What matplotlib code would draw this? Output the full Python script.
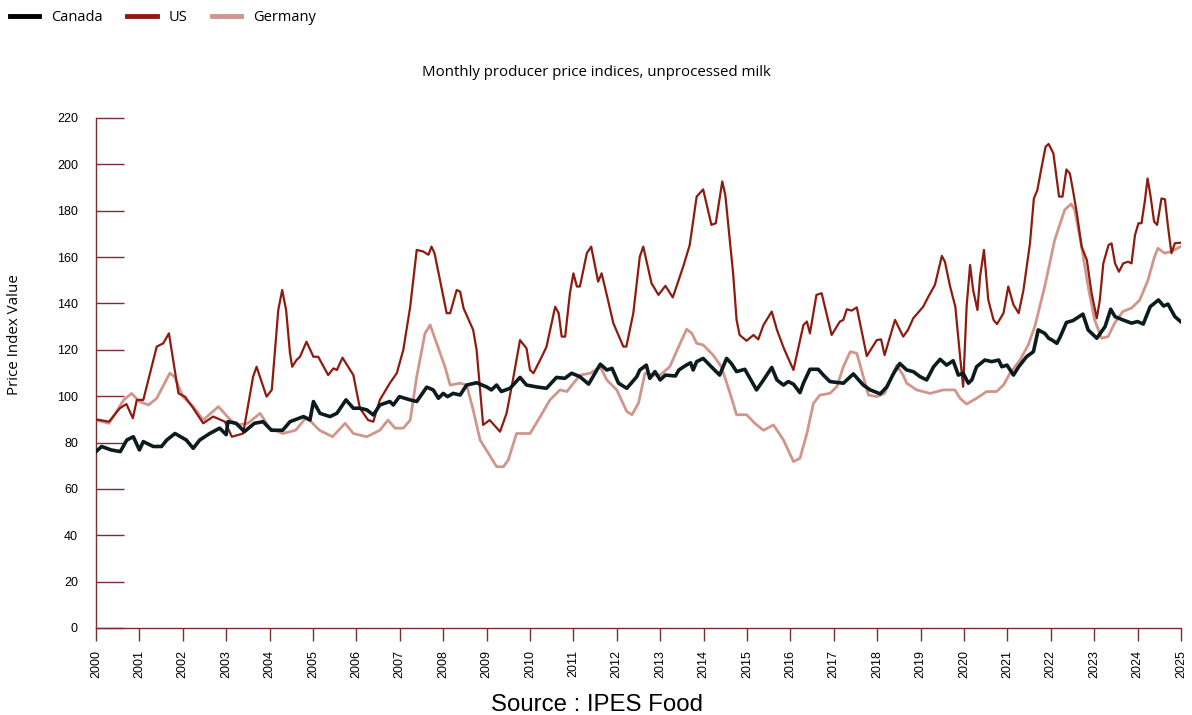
import matplotlib
matplotlib.use("Agg")
import matplotlib.pyplot as plt

# series (decimal year, index value)
canada_t = [2000.0, 2000.13, 2000.35, 2000.56, 2000.71, 2000.86, 2001.0, 2001.09, 2001.32, 2001.51,
            2001.63, 2001.82, 2002.08, 2002.24, 2002.39, 2002.62, 2002.85, 2003.0, 2003.04, 2003.23,
            2003.42, 2003.65, 2003.85, 2004.04, 2004.3, 2004.47, 2004.78, 2004.93, 2005.01, 2005.16,
            2005.39, 2005.55, 2005.76, 2005.93, 2006.08, 2006.24, 2006.39, 2006.54, 2006.77, 2006.85,
            2006.99, 2007.24, 2007.39, 2007.62, 2007.77, 2007.89, 2008.0, 2008.1, 2008.23, 2008.39,
            2008.54, 2008.77, 2009.0, 2009.11, 2009.23, 2009.34, 2009.54, 2009.77, 2009.92, 2010.15,
            2010.38, 2010.61, 2010.8, 2010.96, 2011.15, 2011.35, 2011.62, 2011.77, 2011.89, 2012.04,
            2012.23, 2012.46, 2012.53, 2012.68, 2012.76, 2012.88, 2013.0, 2013.12, 2013.35, 2013.43,
            2013.6, 2013.7, 2013.76, 2013.84, 2013.99, 2014.14, 2014.37, 2014.53, 2014.64, 2014.76,
            2014.95, 2015.22, 2015.38, 2015.57, 2015.69, 2015.84, 2015.95, 2016.07, 2016.22, 2016.3,
            2016.45, 2016.64, 2016.76, 2016.91, 2017.22, 2017.45, 2017.68, 2017.84, 2018.07, 2018.22,
            2018.38, 2018.52, 2018.68, 2018.83, 2018.99, 2019.14, 2019.3, 2019.45, 2019.6, 2019.75,
            2019.87, 2019.98, 2020.1, 2020.18, 2020.29, 2020.48, 2020.64, 2020.8, 2020.87, 2020.99,
            2021.14, 2021.26, 2021.44, 2021.6, 2021.71, 2021.86, 2021.95, 2022.03, 2022.14, 2022.22,
            2022.36, 2022.51, 2022.74, 2022.86, 2023.06, 2023.25, 2023.38, 2023.48, 2023.66, 2023.86,
            2024.0, 2024.13, 2024.29, 2024.48, 2024.6, 2024.7, 2024.86, 2024.99]
canada_v = [76.1, 78.3, 76.8, 76.1, 81.1, 82.5, 76.8, 80.4, 78.3, 78.3,
            81.1, 83.9, 81.1, 77.5, 81.1, 83.9, 86.2, 83.4, 89.0, 88.3,
            84.7, 88.3, 89.0, 85.3, 85.3, 89.0, 91.2, 89.7, 97.7, 92.6,
            91.2, 92.6, 98.4, 94.8, 94.8, 94.1, 91.9, 96.2, 97.7, 96.2,
            99.8, 98.4, 97.7, 103.9, 102.7, 99.1, 101.2, 99.8, 101.2, 100.5,
            104.8, 105.8, 104.0, 102.7, 104.8, 102.0, 103.4, 108.1, 104.8, 104.0,
            103.4, 108.1, 107.7, 109.9, 108.4, 105.2, 113.8, 111.3, 112.0, 105.6,
            103.4, 108.4, 111.3, 113.4, 107.7, 110.6, 107.0, 109.1, 108.7, 111.3,
            113.4, 114.4, 111.3, 114.9, 116.3, 113.4, 109.1, 116.3, 114.1, 110.6,
            111.6, 102.7, 107.0, 112.4, 107.0, 104.8, 106.3, 105.2, 101.5, 105.6,
            111.6, 111.6, 109.1, 106.3, 105.6, 109.6, 104.8, 102.7, 101.0, 104.0,
            109.9, 114.1, 111.3, 110.6, 108.4, 107.0, 112.7, 115.9, 113.4, 115.3,
            109.1, 109.9, 105.6, 107.0, 112.7, 115.6, 114.9, 115.6, 112.7, 113.4,
            109.1, 112.7, 117.0, 119.2, 128.6, 127.1, 125.0, 124.2, 122.8, 125.7,
            131.8, 132.6, 135.4, 128.6, 125.0, 130.0, 137.5, 134.3, 132.9, 131.5,
            132.2, 131.1, 138.6, 141.5, 138.9, 139.7, 134.3, 132.2]

us_t = [2000.0, 2000.3, 2000.55, 2000.7, 2000.85, 2000.94, 2001.09, 2001.4, 2001.55, 2001.68,
        2001.9, 2002.05, 2002.24, 2002.47, 2002.7, 2002.97, 2003.13, 2003.39, 2003.62, 2003.7,
        2003.93, 2004.05, 2004.2, 2004.29, 2004.38, 2004.47, 2004.52, 2004.62, 2004.7, 2004.85,
        2005.01, 2005.12, 2005.35, 2005.47, 2005.55, 2005.68, 2005.93, 2006.08, 2006.27, 2006.39,
        2006.54, 2006.77, 2006.93, 2007.08, 2007.24, 2007.39, 2007.54, 2007.66, 2007.73, 2007.8,
        2008.08, 2008.16, 2008.31, 2008.39, 2008.47, 2008.69, 2008.77, 2008.92, 2009.07, 2009.31,
        2009.46, 2009.62, 2009.77, 2009.92, 2010.0, 2010.08, 2010.27, 2010.38, 2010.58, 2010.66,
        2010.73, 2010.81, 2010.92, 2011.0, 2011.08, 2011.15, 2011.31, 2011.41, 2011.57, 2011.65,
        2011.76, 2011.92, 2012.15, 2012.22, 2012.38, 2012.53, 2012.61, 2012.8, 2012.96, 2013.12,
        2013.29, 2013.53, 2013.68, 2013.84, 2013.99, 2014.18, 2014.28, 2014.43, 2014.5, 2014.68,
        2014.76, 2014.83, 2014.99, 2015.15, 2015.26, 2015.38, 2015.57, 2015.69, 2015.85, 2016.07,
        2016.3, 2016.38, 2016.45, 2016.6, 2016.72, 2016.95, 2017.14, 2017.22, 2017.3, 2017.41,
        2017.53, 2017.76, 2017.99, 2018.09, 2018.17, 2018.41, 2018.6, 2018.71, 2018.83, 2019.06,
        2019.18, 2019.33, 2019.49, 2019.56, 2019.68, 2019.8, 2019.91, 2019.98, 2020.06, 2020.14,
        2020.21, 2020.31, 2020.37, 2020.46, 2020.56, 2020.68, 2020.76, 2020.91, 2021.02, 2021.14,
        2021.26, 2021.37, 2021.52, 2021.61, 2021.69, 2021.79, 2021.88, 2021.95, 2022.06, 2022.19,
        2022.27, 2022.36, 2022.44, 2022.51, 2022.6, 2022.71, 2022.83, 2022.94, 2023.06, 2023.13,
        2023.21, 2023.33, 2023.4, 2023.48, 2023.57, 2023.67, 2023.78, 2023.86, 2023.94, 2024.02,
        2024.09, 2024.17, 2024.23, 2024.3, 2024.38, 2024.45, 2024.55, 2024.63, 2024.7, 2024.78,
        2024.86, 2024.99]
us_v = [90.0, 89.0, 94.8, 96.6, 90.5, 98.4, 98.4, 121.4, 122.8, 127.1,
        101.2, 99.8, 94.8, 88.3, 91.2, 89.0, 82.5, 83.9, 108.4, 112.7,
        99.8, 102.7, 137.2, 145.8, 137.2, 118.5, 112.7, 115.6, 117.0, 123.5,
        117.0, 117.0, 109.1, 112.0, 111.3, 116.6, 109.1, 94.8, 89.7, 89.0,
        98.4, 105.6, 109.9, 119.9, 138.6, 163.1, 162.4, 161.0, 164.5, 161.7,
        135.8, 135.8, 145.8, 145.1, 137.9, 128.6, 119.9, 87.6, 89.7, 84.7,
        92.6, 108.4, 124.2, 120.6, 111.3, 109.9, 117.0, 121.3, 138.6, 135.8,
        125.7, 125.7, 144.4, 153.0, 147.3, 147.3, 161.7, 164.5, 149.4, 153.0,
        144.4, 131.5, 121.4, 121.4, 135.8, 160.2, 164.5, 148.7, 143.7, 147.6,
        142.6, 155.9, 165.2, 186.1, 189.2, 173.9, 174.6, 192.6, 186.8, 153.0,
        132.9, 126.4, 123.9, 126.4, 124.5, 130.7, 136.5, 128.6, 120.6, 111.3,
        130.7, 132.2, 127.1, 143.7, 144.4, 126.4, 132.2, 132.9, 137.5, 136.9,
        138.3, 117.3, 124.2, 124.5, 117.7, 132.9, 125.7, 128.6, 133.6, 138.6,
        143.0, 148.0, 160.5, 158.0, 147.3, 138.6, 117.0, 104.1, 138.6, 156.6,
        145.8, 137.2, 151.6, 163.1, 141.5, 132.9, 131.1, 135.8, 147.3, 139.4,
        135.8, 145.8, 165.9, 185.3, 188.9, 199.0, 207.6, 208.8, 204.7, 186.1,
        186.1, 197.8, 196.0, 188.9, 178.9, 164.5, 158.8, 144.4, 133.6, 141.5,
        157.3, 165.2, 165.9, 157.3, 153.7, 157.3, 158.0, 157.3, 169.5, 174.6,
        174.6, 184.6, 193.9, 186.1, 175.3, 173.9, 185.3, 184.9, 173.2, 161.7,
        166.0, 166.2]

germany_t = [2000.0, 2000.3, 2000.64, 2000.82, 2001.0, 2001.21, 2001.4, 2001.7, 2001.81, 2002.0,
             2002.24, 2002.47, 2002.82, 2003.1, 2003.25, 2003.5, 2003.78, 2004.0, 2004.3, 2004.6,
             2004.85, 2005.15, 2005.45, 2005.74, 2005.93, 2006.24, 2006.54, 2006.73, 2006.89, 2007.08,
             2007.24, 2007.39, 2007.58, 2007.7, 2007.85, 2008.04, 2008.16, 2008.39, 2008.54, 2008.69,
             2008.85, 2009.04, 2009.23, 2009.39, 2009.5, 2009.69, 2009.85, 2010.0, 2010.23, 2010.46,
             2010.69, 2010.85, 2011.0, 2011.16, 2011.39, 2011.62, 2011.77, 2012.0, 2012.23, 2012.35,
             2012.5, 2012.65, 2012.82, 2013.0, 2013.22, 2013.46, 2013.61, 2013.73, 2013.84, 2013.99,
             2014.22, 2014.41, 2014.61, 2014.76, 2014.99, 2015.18, 2015.38, 2015.61, 2015.84, 2016.07,
             2016.22, 2016.38, 2016.53, 2016.68, 2016.91, 2017.07, 2017.22, 2017.38, 2017.53, 2017.68,
             2017.8, 2017.99, 2018.17, 2018.45, 2018.6, 2018.68, 2018.91, 2019.22, 2019.52, 2019.79,
             2019.91, 2020.06, 2020.29, 2020.52, 2020.75, 2020.91, 2021.06, 2021.29, 2021.48, 2021.63,
             2021.86, 2022.09, 2022.32, 2022.47, 2022.55, 2022.71, 2022.86, 2023.01, 2023.17, 2023.32,
             2023.47, 2023.66, 2023.86, 2024.05, 2024.24, 2024.39, 2024.47, 2024.62, 2024.77, 2024.92,
             2024.99]
germany_v = [89.7, 88.3, 98.4, 101.2, 97.7, 96.2, 99.1, 109.9, 108.4, 99.8,
             95.5, 89.7, 95.5, 89.7, 87.6, 88.3, 92.6, 86.2, 83.9, 85.3,
             91.0, 85.3, 82.5, 88.3, 83.9, 82.5, 85.3, 89.7, 86.2, 86.2,
             89.7, 108.4, 127.1, 130.7, 122.8, 112.7, 104.8, 105.6, 104.8, 94.1,
             81.1, 75.4, 69.6, 69.6, 72.5, 83.9, 83.9, 83.9, 91.0, 98.4,
             102.7, 102.0, 105.6, 109.1, 109.9, 112.7, 107.0, 102.7, 93.4, 92.0,
             97.0, 109.9, 109.1, 109.1, 112.7, 122.8, 128.9, 127.1, 122.8, 122.1,
             117.7, 112.7, 101.2, 92.0, 92.0, 88.3, 85.3, 87.6, 81.1, 71.8,
             73.2, 83.9, 96.9, 100.5, 101.2, 104.1, 112.7, 119.2, 118.5, 108.4,
             100.5, 99.8, 101.2, 113.4, 109.0, 105.6, 102.7, 101.2, 102.7, 102.7,
             99.1, 96.6, 99.1, 102.0, 102.0, 104.8, 109.9, 115.6, 122.1, 130.0,
             147.3, 167.4, 180.4, 182.9, 180.4, 164.5, 147.3, 132.9, 125.0, 125.7,
             131.5, 136.5, 138.0, 141.5, 150.1, 160.2, 163.8, 161.7, 162.4, 163.8,
             164.5]

years = list(range(2000, 2026))
yticks = list(range(0, 221, 20))

axis_col = '#7a2e2e'

plt.rcParams['font.family'] = ['Open Sans', 'DejaVu Sans']

fig = plt.figure(figsize=(11.92, 7.15), dpi=100)
ax = fig.add_axes([96 / 1192, 1 - 628 / 715, 1085 / 1192, 510 / 715])

ax.plot(germany_t, germany_v, color='#d1968b', lw=2.0, label='Germany', zorder=2)
ax.plot(us_t, us_v, color='#8e1b10', lw=1.6, label='US', zorder=3)
ax.plot(canada_t, canada_v, color='#0c1c1e', lw=2.6, label='Canada', zorder=4)

ax.set_xlim(2000, 2025)
ax.set_ylim(0, 220)
ax.set_xticks(years)
ax.set_xticklabels([str(y) for y in years], rotation=90, fontsize=9,
                   family='Liberation Sans')
ax.set_yticks(yticks)
ax.set_yticklabels([str(v) for v in yticks], fontsize=9, family='Liberation Sans')

for s in ['top', 'right']:
    ax.spines[s].set_visible(False)
for s in ['left', 'bottom']:
    ax.spines[s].set_color(axis_col)
    ax.spines[s].set_linewidth(1.0)

ax.tick_params(axis='y', direction='in', length=20, width=1.0, color=axis_col, pad=13)
ax.tick_params(axis='x', direction='out', length=9, width=1.0, color=axis_col, pad=7)

fig.text(15 / 1192, 1 - 335 / 715, 'Price Index Value', rotation=90,
         ha='center', va='center', fontsize=10.9)
fig.text(596 / 1192, 1 - 73 / 715, 'Monthly producer price indices, unprocessed milk',
         ha='center', va='center', fontsize=10.8)
fig.text(597 / 1192, 1 - 705 / 715, 'Source : IPES Food', ha='center', va='center',
         fontsize=17.3, family='Liberation Sans')

h, l = ax.get_legend_handles_labels()
order = [2, 1, 0]
leg = fig.legend([h[i] for i in order], [l[i] for i in order], loc='upper left',
                 bbox_to_anchor=(0.0, 1.0), ncol=3, frameon=False, fontsize=10.5,
                 handlelength=2.0, handletextpad=0.8, columnspacing=1.7,
                 borderaxespad=0.3)
for line in leg.get_lines():
    line.set_linewidth(3.5)
leg.get_lines()[0].set_color('black')

fig.savefig('out.png', dpi=100, facecolor='white')
